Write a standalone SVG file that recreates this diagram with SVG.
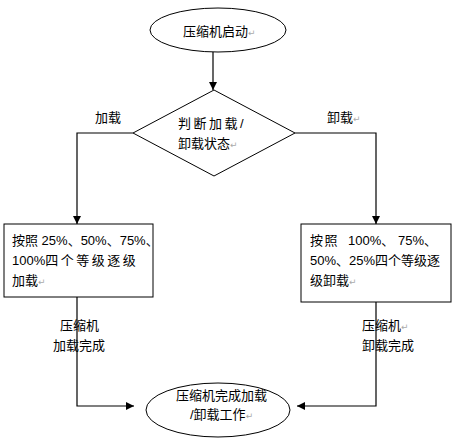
<svg xmlns="http://www.w3.org/2000/svg" width="463" height="446" viewBox="0 0 463 446">
<defs>
<marker id="ah" viewBox="0 0 10 10" refX="10" refY="5" markerWidth="9" markerHeight="8" markerUnits="userSpaceOnUse" orient="auto">
<path d="M0,0 L10,5 L0,10 Z" fill="#000"/>
</marker>
<style>
.s{fill:#fff;stroke:#000;stroke-width:1}
.c{fill:none;stroke:#000;stroke-width:1.2;marker-end:url(#ah)}
text{font-family:"Liberation Sans","Noto Sans CJK SC",sans-serif;font-size:13px;fill:#000}
.m{fill:#aaa;font-size:9px;font-family:"DejaVu Sans",sans-serif}
</style>
</defs>
<rect width="463" height="446" fill="#fff"/>
<g id="connectors">
<path class="c" d="M213,52 L213,90"/>
<path class="c" d="M133,133 L77,133 L77,224"/>
<path class="c" d="M295,133 L376,133 L376,224"/>
<path class="c" d="M77,297 L77,406 L134,406"/>
<path class="c" d="M376,302 L376,406 L297,406"/>
</g>
<g id="start">
<ellipse class="s" cx="218" cy="30" rx="68" ry="22"/>
<text x="183" y="36">压缩机启动<tspan class="m">↵</tspan></text>
</g>
<g id="decision">
<polygon class="s" points="214,90 295,133 214,176 133,133"/>
<text x="178" y="128" letter-spacing="2.5">判断加载/</text>
<text x="178" y="148">卸载状态<tspan class="m">↵</tspan></text>
</g>
<g id="label-load"><text x="95" y="122">加载</text></g>
<g id="label-unload"><text x="327" y="122">卸载<tspan class="m">↵</tspan></text></g>
<g id="load-box">
<rect class="s" x="4" y="224" width="149" height="73"/>
<text x="12" y="245">按照 25%、50%、75%、</text>
<text x="12" y="265">100%<tspan letter-spacing="2.5">四个等级逐级</tspan></text>
<text x="12" y="285">加载<tspan class="m">↵</tspan></text>
</g>
<g id="unload-box">
<rect class="s" x="301" y="224" width="150" height="78"/>
<text x="310" y="245" letter-spacing="1.5">按照<tspan x="348" letter-spacing="0">100%、</tspan><tspan x="398" letter-spacing="0">75%、</tspan></text>
<text x="310" y="265">50%、25%四个等级逐</text>
<text x="310" y="285">级卸载<tspan class="m">↵</tspan></text>
</g>
<g id="load-done-label">
<text x="60" y="330">压缩机</text>
<text x="53" y="350">加载完成</text>
</g>
<g id="unload-done-label">
<text x="362" y="330">压缩机<tspan class="m">↵</tspan></text>
<text x="362" y="350">卸载完成</text>
</g>
<g id="end">
<ellipse class="s" cx="218" cy="410" rx="72" ry="27"/>
<text x="176" y="400">压缩机完成加载</text>
<text x="190" y="419">/卸载工作<tspan class="m">↵</tspan></text>
</g>
</svg>
